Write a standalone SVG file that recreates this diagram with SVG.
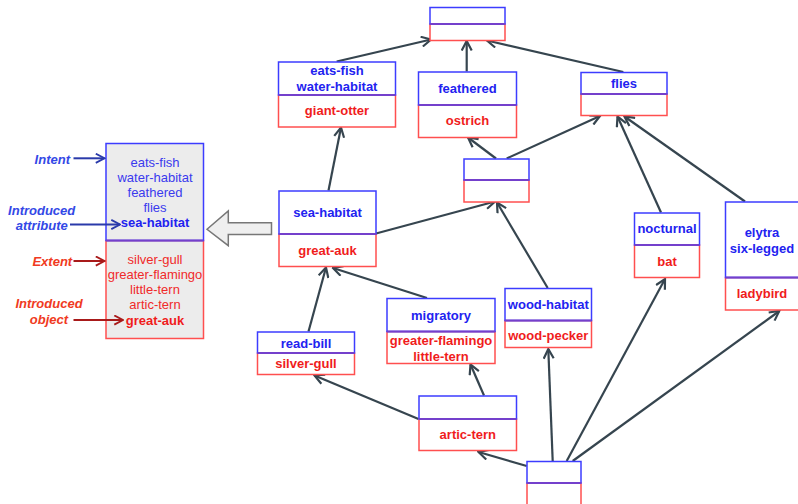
<svg xmlns="http://www.w3.org/2000/svg" width="798" height="504" viewBox="0 0 798 504">
<style>
.up{fill:#fff;stroke:#3c3cff;stroke-width:1.5}
.lo{fill:#fff;stroke:#ff4f4f;stroke-width:1.5}
.dv{stroke:#7440cc;stroke-width:2}
.pu{fill:#ececec;stroke:#3c3cff;stroke-width:1.5}
.pl{fill:#ececec;stroke:#ff4f4f;stroke-width:1.5}
.a{font-family:"Liberation Sans",Arial,sans-serif;font-size:13px;font-weight:bold;fill:#2222f0;text-anchor:middle}
.o{font-family:"Liberation Sans",Arial,sans-serif;font-size:13px;font-weight:bold;fill:#f01c1c;text-anchor:middle}
.pa{font-family:"Liberation Sans",Arial,sans-serif;font-size:13px;fill:#3a3aee;text-anchor:middle}
.po{font-family:"Liberation Sans",Arial,sans-serif;font-size:13px;fill:#f02a2a;text-anchor:middle}
.la{font-family:"Liberation Sans",Arial,sans-serif;font-size:13px;font-weight:bold;font-style:italic;fill:#3348e6;text-anchor:middle}
.lr{font-family:"Liberation Sans",Arial,sans-serif;font-size:13px;font-weight:bold;font-style:italic;fill:#f03a22;text-anchor:middle}
.c{stroke:#36454f;stroke-width:2.2;fill:none;marker-end:url(#ah)}
.cb{stroke:#2a3aaa;stroke-width:2;fill:none;marker-end:url(#ahb)}
.cr{stroke:#a81a1a;stroke-width:2;fill:none;marker-end:url(#ahr)}
</style>
<defs>
<marker id="ah" viewBox="0 0 12 12" refX="10.5" refY="6" markerWidth="12" markerHeight="12" markerUnits="userSpaceOnUse" orient="auto">
<path d="M1,1 L10.5,6 L1,11" fill="none" stroke="#36454f" stroke-width="2.2"/>
</marker>
<marker id="ahb" viewBox="0 0 12 12" refX="10.5" refY="6" markerWidth="11" markerHeight="11" markerUnits="userSpaceOnUse" orient="auto">
<path d="M1,1 L10.5,6 L1,11" fill="none" stroke="#2a3aaa" stroke-width="2"/>
</marker>
<marker id="ahr" viewBox="0 0 12 12" refX="10.5" refY="6" markerWidth="11" markerHeight="11" markerUnits="userSpaceOnUse" orient="auto">
<path d="M1,1 L10.5,6 L1,11" fill="none" stroke="#a81a1a" stroke-width="2"/>
</marker>
</defs>
<rect width="798" height="504" fill="#fff"/>

<g id="legend">
<rect class="pl" x="106" y="240.5" width="97.5" height="98"/>
<rect class="pu" x="106" y="143.5" width="97.5" height="97"/>
<line class="dv" x1="106" y1="240.5" x2="203.5" y2="240.5"/>
<text class="pa" x="155" y="166.5">eats-fish</text>
<text class="pa" x="155" y="181.7">water-habitat</text>
<text class="pa" x="155" y="196.9">feathered</text>
<text class="pa" x="155" y="212.1">flies</text>
<text class="a" x="155" y="227.3">sea-habitat</text>
<text class="po" x="155" y="263.5">silver-gull</text>
<text class="po" x="155" y="278.8">greater-flamingo</text>
<text class="po" x="155" y="294">little-tern</text>
<text class="po" x="155" y="309.3">artic-tern</text>
<text class="o" x="155" y="324.5">great-auk</text>
<text class="la" x="52.3" y="163.5">Intent</text>
<text class="la" x="41.7" y="214.5">Introduced</text>
<text class="la" x="41.7" y="230">attribute</text>
<text class="lr" x="52.3" y="265.5">Extent</text>
<text class="lr" x="49" y="308">Introduced</text>
<text class="lr" x="49" y="324">object</text>
<line class="cb" x1="73.5" y1="158.3" x2="104.5" y2="158.3"/>
<line class="cb" x1="70" y1="224.5" x2="120" y2="224.5"/>
<line class="cr" x1="73.5" y1="261" x2="104.5" y2="261"/>
<line class="cr" x1="73.5" y1="320" x2="123" y2="320"/>
<path d="M207,229.3 L228.3,211 L228.3,222.8 L271.5,222.8 L271.5,234.5 L228.3,234.5 L228.3,245.7 Z" fill="#efefef" stroke="#777" stroke-width="1.5" stroke-linejoin="miter"/>
</g>

<g id="connectors">
<line class="c" x1="336.7" y1="61.5" x2="431" y2="39.5"/>
<line class="c" x1="466.7" y1="71.5" x2="466.7" y2="41"/>
<line class="c" x1="623.3" y1="72" x2="487" y2="40.5"/>
<line class="c" x1="496" y1="158.5" x2="468" y2="137.5"/>
<line class="c" x1="506.7" y1="158.5" x2="600" y2="116"/>
<line class="c" x1="661" y1="212.5" x2="617.5" y2="116.5"/>
<line class="c" x1="745" y1="201.5" x2="624.5" y2="116.5"/>
<line class="c" x1="328.5" y1="190.5" x2="341" y2="127.5"/>
<line class="c" x1="376" y1="233.5" x2="495" y2="201.5"/>
<line class="c" x1="547.7" y1="288" x2="497" y2="202.5"/>
<line class="c" x1="308.5" y1="331.5" x2="326" y2="267.5"/>
<line class="c" x1="427" y1="298" x2="333" y2="268"/>
<line class="c" x1="418.5" y1="419" x2="314.5" y2="375.5"/>
<line class="c" x1="484" y1="395.5" x2="470.5" y2="364.5"/>
<line class="c" x1="526.7" y1="466" x2="478.5" y2="452"/>
<line class="c" x1="552.7" y1="461" x2="548.3" y2="349"/>
<line class="c" x1="566.7" y1="461" x2="665" y2="279"/>
<line class="c" x1="572.7" y1="461" x2="779.3" y2="311"/>
</g>

<g id="top">
<rect class="lo" x="430" y="24" width="75" height="16.5"/>
<rect class="up" x="430" y="7.5" width="75" height="16.5"/>
<line class="dv" x1="430" y1="24" x2="505" y2="24"/>
</g>

<g id="eats-fish">
<rect class="lo" x="278.5" y="95" width="117" height="32"/>
<rect class="up" x="278.5" y="62" width="117" height="33"/>
<line class="dv" x1="278.5" y1="95" x2="395.5" y2="95"/>
<text class="a" x="337" y="75.3">eats-fish</text>
<text class="a" x="337" y="90.5">water-habitat</text>
<text class="o" x="337" y="115.3">giant-otter</text>
</g>

<g id="feathered">
<rect class="lo" x="418.5" y="105" width="98" height="32.5"/>
<rect class="up" x="418.5" y="72" width="98" height="33"/>
<line class="dv" x1="418.5" y1="105" x2="516.5" y2="105"/>
<text class="a" x="467.5" y="93">feathered</text>
<text class="o" x="467.5" y="125.3">ostrich</text>
</g>

<g id="flies">
<rect class="lo" x="581" y="94" width="86" height="21.5"/>
<rect class="up" x="581" y="72.5" width="86" height="21.5"/>
<line class="dv" x1="581" y1="94" x2="667" y2="94"/>
<text class="a" x="624" y="88">flies</text>
</g>

<g id="mid">
<rect class="lo" x="464" y="180" width="65" height="22"/>
<rect class="up" x="464" y="159" width="65" height="21"/>
<line class="dv" x1="464" y1="180" x2="529" y2="180"/>
</g>

<g id="sea-habitat">
<rect class="lo" x="279" y="234" width="97" height="32.5"/>
<rect class="up" x="279" y="191" width="97" height="43"/>
<line class="dv" x1="279" y1="234" x2="376" y2="234"/>
<text class="a" x="327.5" y="217">sea-habitat</text>
<text class="o" x="327.5" y="255.3">great-auk</text>
</g>

<g id="read-bill">
<rect class="lo" x="257.5" y="353" width="97" height="21.5"/>
<rect class="up" x="257.5" y="332" width="97" height="21"/>
<line class="dv" x1="257.5" y1="353" x2="354.5" y2="353"/>
<text class="a" x="306" y="348">read-bill</text>
<text class="o" x="306" y="368">silver-gull</text>
</g>

<g id="migratory">
<rect class="lo" x="387" y="331.5" width="108" height="32"/>
<rect class="up" x="387" y="298.5" width="108" height="33"/>
<line class="dv" x1="387" y1="331.5" x2="495" y2="331.5"/>
<text class="a" x="441" y="320.3">migratory</text>
<text class="o" x="441" y="344.7">greater-flamingo</text>
<text class="o" x="441" y="361.3">little-tern</text>
</g>

<g id="wood-habitat">
<rect class="lo" x="505" y="320.5" width="86.5" height="27"/>
<rect class="up" x="505" y="288.5" width="86.5" height="32"/>
<line class="dv" x1="505" y1="320.5" x2="591.5" y2="320.5"/>
<text class="a" x="548.3" y="309">wood-habitat</text>
<text class="o" x="548.3" y="339.7">wood-pecker</text>
</g>

<g id="nocturnal">
<rect class="lo" x="634.5" y="245" width="65" height="32.5"/>
<rect class="up" x="634.5" y="213" width="65" height="32"/>
<line class="dv" x1="634.5" y1="245" x2="699.5" y2="245"/>
<text class="a" x="667" y="233">nocturnal</text>
<text class="o" x="667" y="266.3">bat</text>
</g>

<g id="elytra">
<rect class="lo" x="725.5" y="277.5" width="76" height="32.5"/>
<rect class="up" x="725.5" y="202" width="76" height="75.5"/>
<line class="dv" x1="725.5" y1="277.5" x2="801.5" y2="277.5"/>
<text class="a" x="762" y="237">elytra</text>
<text class="a" x="762" y="253">six-legged</text>
<text class="o" x="762" y="298">ladybird</text>
</g>

<g id="artic-tern">
<rect class="lo" x="419" y="419" width="97.5" height="31.5"/>
<rect class="up" x="419" y="396" width="97.5" height="23"/>
<line class="dv" x1="419" y1="419" x2="516.5" y2="419"/>
<text class="o" x="467.8" y="439">artic-tern</text>
</g>

<g id="bottom">
<rect class="lo" x="527" y="483" width="54" height="23"/>
<rect class="up" x="527" y="461.5" width="54" height="21.5"/>
<line class="dv" x1="527" y1="483" x2="581" y2="483"/>
</g>
</svg>
